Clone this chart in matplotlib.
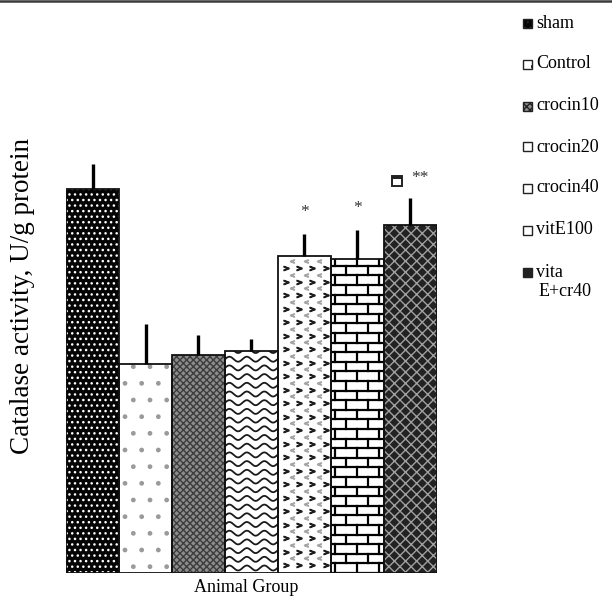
import numpy as np
import matplotlib
matplotlib.use("Agg")
import matplotlib.pyplot as plt
from matplotlib.patches import Rectangle
from matplotlib.lines import Line2D
from matplotlib.offsetbox import AnnotationBbox, DrawingArea

plt.rcParams["font.family"] = ["Liberation Serif", "DejaVu Serif"]
plt.rcParams["hatch.linewidth"] = 1.0

# Catalase activity per group (U/g protein) with upper SEM
groups = ["sham", "Control", "crocin10", "crocin20", "crocin40", "vitE100", "vita E+cr40"]
values = [38.4, 20.9, 21.8, 22.2, 31.7, 31.4, 34.8]
errors = [2.5, 4.0, 2.0, 1.2, 2.2, 2.9, 2.7]
marks = ["", "", "", "", "*", "*", "**"]

# fill styles: face colour, hatch colour, hatch
faces = ["#050505", "white", "#8c8c8c", "white", "white", "white", "#222222"]
hatch_cols = ["white", "#9a9a9a", "#3c3c3c", "#1a1a1a", "#555555", "black", "#a0a0a0"]
hatches = ["...", ".", "xxxxx", "", "", "", "xxx"]

W, H = 612, 597
fig = plt.figure(figsize=(W / 100, H / 100), dpi=100)
ax = fig.add_axes([66 / W, 24 / H, 371 / W, 572 / H])
ax.set_xlim(-0.5, 6.5)
ax.set_ylim(0, 57.2)
ax.axis("off")

x = np.arange(len(groups))
fills = ax.bar(x, values, width=1.0, color=faces, edgecolor=hatch_cols,
               linewidth=0, zorder=1)
for rect, h in zip(fills, hatches):
    if h:
        rect.set_hatch(h)

# wave texture for crocin20
r = fills[3]
x0, w, top = r.get_x(), r.get_width(), r.get_height()
xs = np.linspace(x0, x0 + w, 200)
for yb in np.arange(0.5, top + 1, 0.87):
    ln, = ax.plot(xs, yb + 0.25 * np.sin(2 * np.pi * (xs - x0) / 0.33),
                  color="#1a1a1a", lw=1.3, zorder=2)
    ln.set_clip_path(r)

# chevron texture for crocin40
r = fills[4]
x0, w, top = r.get_x(), r.get_width(), r.get_height()
for yc in np.arange(0.8, top - 0.4, 1.35):
    for fx in [0.15, 0.4, 0.65, 0.9]:
        ax.plot(x0 + fx * w, yc, marker="$>$", ms=3.6, color="#1e1e1e",
                linestyle="none", zorder=2)
    for fx in [0.27, 0.52, 0.77]:
        if yc + 0.67 < top - 0.4:
            ax.plot(x0 + fx * w, yc + 0.67, marker="$<$", ms=2.8, color="#a5a5a5",
                    linestyle="none", zorder=2)

# brick texture for vitE100
r = fills[5]
x0, w, top = r.get_x(), r.get_width(), r.get_height()
row = 0.96
brick = 0.415
for k, yb in enumerate(np.arange(0, top, row)):
    hl, = ax.plot([x0, x0 + w], [yb, yb], color="black", lw=1.6, zorder=2)
    hl.set_clip_path(r)
    off = 0.0 if k % 2 == 0 else brick / 2
    for xv in np.arange(x0 + off + 0.08, x0 + w, brick):
        vl, = ax.plot([xv, xv], [yb, min(yb + row, top)], color="black", lw=1.6, zorder=2)
        vl.set_clip_path(r)

# outlines
ax.bar(x, values, width=1.0, fill=False, edgecolor="#111111", linewidth=1.3, zorder=3)

# upper error bars
ax.errorbar(x, values, yerr=[np.zeros(len(x)), errors], fmt="none",
            ecolor="black", elinewidth=2.4, capsize=0, zorder=4)

# significance marks
for xi, v, e, m in zip(x, values, errors, marks):
    if m == "*":
        ax.annotate(m, (xi, v + e), xytext=(0, 15.5), textcoords="offset points",
                    ha="center", va="center", fontsize=12.5, color="#333333")
    elif m == "**":
        ax.annotate(m, (xi, v + e), xytext=(6.5, 14.5), textcoords="offset points",
                    ha="center", va="center", fontsize=12.5, color="#333333")
        da = DrawingArea(7, 7, 0, 0)
        da.add_artist(Rectangle((0, 0), 7, 7, facecolor="white", edgecolor="#222222", lw=1.4))
        da.add_artist(Rectangle((0, 5), 7, 2, facecolor="#222222", edgecolor="none"))
        ax.add_artist(AnnotationBbox(da, (xi, v + e), xybox=(-9.5, 12.5),
                                     boxcoords="offset points", frameon=False, pad=0))

# legend: small swatches with group names
legend_y = [23, 64, 106, 147, 188, 230, 272]
for name, f, hc, h, yy in zip(groups, faces, hatch_cols, hatches, legend_y):
    sw = Rectangle((523 / W, 1 - (yy + 4.5) / H), 9 / W, 9 / H, transform=fig.transFigure,
                   facecolor=f, edgecolor="#222222", lw=1.0, hatch=h or None)
    fig.add_artist(sw)
    if name.startswith("vita "):
        fig.text(536 / W, 1 - yy / H, "vita", ha="left", va="center", fontsize=13)
        fig.text(539 / W, 1 - (yy + 19) / H, "E+cr40", ha="left", va="center", fontsize=13)
    else:
        fig.text(536 / W, 1 - yy / H, name, ha="left", va="center", fontsize=13)

# axis titles
fig.text(23 / W, 1 - 296 / H, "Catalase activity, U/g protein", rotation=90,
         ha="center", va="center", fontsize=19.5)
fig.text(246 / W, 1 - 587 / H, "Animal Group", ha="center", va="center", fontsize=13)

# rule along the top edge
fig.add_artist(Line2D([0, 1], [1 - 1.2 / H, 1 - 1.2 / H], color="#3a3a3a", lw=1.8,
                      transform=fig.transFigure))

fig.savefig("out.png", dpi=100)
